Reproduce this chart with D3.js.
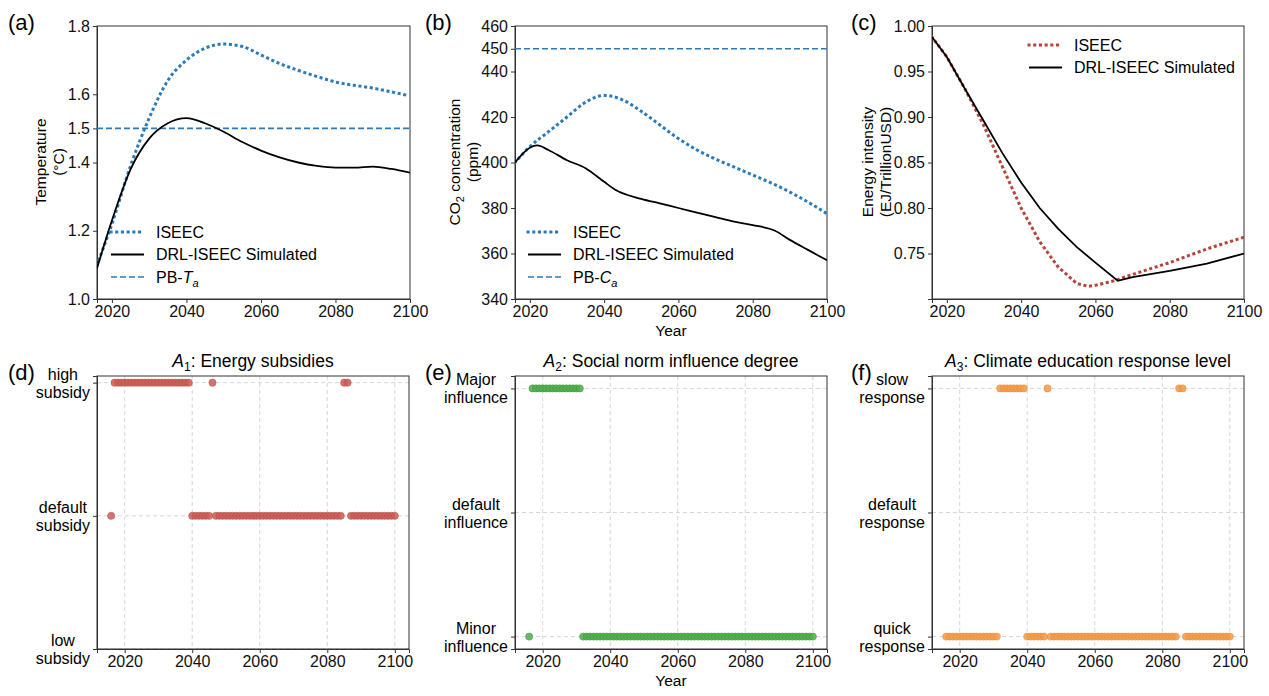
<!DOCTYPE html>
<html>
<head>
<meta charset="utf-8">
<script src="https://cdn.jsdelivr.net/npm/d3@7"></script>
<style>
  body { margin: 0; background: #fff; }
  svg { font-family: "Liberation Sans", Arial, sans-serif; }
  .tick text { font-size: 16px; fill: #111; }
  .domain { stroke: #333; }
  .tick line { stroke: #333; }
</style>
</head>
<body>
<svg id="chart" width="1269" height="696"></svg>
<script>
// ---- data ----
var tempYears   = [2016, 2020, 2025, 2030, 2035, 2040, 2045, 2050, 2055, 2060, 2065, 2070, 2075, 2080, 2090, 2100];
var tempIseec   = [1.10, 1.22, 1.39, 1.53, 1.64, 1.70, 1.735, 1.747, 1.74, 1.715, 1.69, 1.67, 1.652, 1.636, 1.618, 1.595];
var tempDrlYears = [2016, 2020, 2025, 2030, 2035, 2040, 2045, 2050, 2055, 2060, 2065, 2070, 2075, 2080, 2085, 2090, 2095, 2100];
var tempDrl     = [1.09, 1.23, 1.38, 1.47, 1.515, 1.53, 1.515, 1.49, 1.46, 1.435, 1.415, 1.40, 1.39, 1.385, 1.385, 1.388, 1.381, 1.37];

var co2Years    = [2016, 2020, 2025, 2030, 2035, 2040, 2045, 2050, 2055, 2060, 2065, 2070, 2075, 2080, 2085, 2090, 2095, 2100];
var co2Iseec    = [400, 407, 413.5, 420, 426.5, 429.5, 427.5, 422.5, 416.5, 410.5, 405.5, 401.5, 398, 394.5, 391, 387, 382.5, 377.5];
var co2DrlYears = [2016, 2020, 2022, 2025, 2030, 2035, 2040, 2043, 2050, 2055, 2060, 2065, 2070, 2075, 2080, 2086, 2090, 2095, 2100];
var co2Drl      = [400, 406.5, 407.5, 405.5, 401, 397.5, 391.5, 388, 384, 382, 380, 378, 376, 374, 372.5, 370, 366, 361.5, 357];

var eiYears     = [2016, 2020, 2025, 2030, 2035, 2040, 2045, 2050, 2055, 2058, 2060, 2065, 2070, 2080, 2090, 2100];
var eiIseec     = [0.988, 0.966, 0.93, 0.89, 0.845, 0.80, 0.763, 0.735, 0.717, 0.714, 0.715, 0.72, 0.727, 0.74, 0.755, 0.768];
var eiDrlYears  = [2016, 2020, 2025, 2030, 2035, 2040, 2045, 2050, 2055, 2060, 2066, 2070, 2080, 2090, 2100];
var eiDrl       = [0.988, 0.966, 0.93, 0.895, 0.86, 0.828, 0.80, 0.777, 0.757, 0.740, 0.720, 0.724, 0.731, 0.739, 0.750];

// action runs: [firstYear, lastYear, level]  (0 = low, 1 = default, 2 = high)
var a1Runs = [[2016, 2016, 1], [2017, 2039, 2], [2040, 2045, 1], [2046, 2046, 2], [2047, 2084, 1], [2085, 2086, 2], [2087, 2100, 1]];
var a2Runs = [[2016, 2016, 0], [2017, 2031, 2], [2032, 2100, 0]];
var a3Runs = [[2016, 2031, 0], [2032, 2039, 2], [2040, 2045, 0], [2046, 2046, 2], [2047, 2084, 0], [2085, 2086, 2], [2087, 2100, 0]];

var a1Labels = [["low", "subsidy"], ["default", "subsidy"], ["high", "subsidy"]];
var a2Labels = [["Minor", "influence"], ["default", "influence"], ["Major", "influence"]];
var a3Labels = [["quick", "response"], ["default", "response"], ["slow", "response"]];

var svg = d3.select("#chart");
var BLUE = "#2b7bb9", RED = "#b8433a";

function panelLabel(x, y, t) {
  svg.append("text").attr("x", x).attr("y", y).attr("font-size", 22).text(t);
}

function yLabel(g, x, y, lines) {
  var t = g.append("text").attr("transform", "translate(" + x + "," + y + ") rotate(-90)")
    .attr("text-anchor", "middle").attr("font-size", 15.5);
  lines.forEach(function(l, i) {
    var tt = t.append("tspan").attr("x", 0).attr("dy", i === 0 ? 0 : 18);
    l(tt);
  });
}

function linePanel(o) {
  var g = svg.append("g").attr("transform", "translate(" + o.left + "," + o.top + ")");
  var w = o.width, h = o.height;
  var x = d3.scaleLinear().domain([2016, 2100]).range([0, w]);
  var y = d3.scaleLinear().domain(o.yDomain).range([h, 0]);
  g.append("g").attr("transform", "translate(0," + h + ")")
    .call(d3.axisBottom(x).tickValues([2020, 2040, 2060, 2080, 2100]).tickFormat(d3.format("d")).tickSizeOuter(0).tickSize(4).tickPadding(3));
  g.append("g").call(d3.axisLeft(y).tickValues(o.yTicks).tickFormat(o.fmt).tickSizeOuter(0).tickSize(4).tickPadding(3));
  g.append("rect").attr("width", w).attr("height", h).attr("fill", "none").attr("stroke", "#333");
  var clip = "clip" + o.id;
  g.append("clipPath").attr("id", clip).append("rect").attr("width", w).attr("height", h);
  var pl = g.append("g").attr("clip-path", "url(#" + clip + ")");
  var curve = o.curve || d3.curveMonotoneX;
  var ln = d3.line().curve(curve).x(function(d) { return x(d[0]); }).y(function(d) { return y(d[1]); });
  if (o.pb != null) {
    pl.append("line").attr("x1", 0).attr("x2", w).attr("y1", y(o.pb)).attr("y2", y(o.pb))
      .attr("stroke", BLUE).attr("stroke-width", 1.6).attr("stroke-dasharray", "6,3");
  }
  pl.append("path").datum(d3.zip(o.years1, o.vals1)).attr("d", ln).attr("fill", "none")
    .attr("stroke", o.color1).attr("stroke-width", 3).attr("stroke-dasharray", "0.1,5.6").attr("stroke-linecap", "square");
  pl.append("path").datum(d3.zip(o.years2, o.vals2)).attr("d", ln).attr("fill", "none")
    .attr("stroke", "#000").attr("stroke-width", 1.8);

  // legend
  var lg = g.append("g").attr("transform", "translate(" + o.legX + "," + o.legY + ")");
  o.legend.forEach(function(it, i) {
    var yy = i * 22.5;
    var l = lg.append("line").attr("x1", 0).attr("x2", 33).attr("y1", yy).attr("y2", yy).attr("stroke", it.color);
    if (it.type === "dot") l.attr("stroke-width", 3).attr("stroke-dasharray", "0.1,5.6").attr("stroke-linecap", "square");
    else if (it.type === "dash") l.attr("stroke-width", 1.6).attr("stroke-dasharray", "6,3");
    else l.attr("stroke-width", 1.8);
    var t = lg.append("text").attr("x", 45).attr("y", yy + 5.5).attr("font-size", 16);
    it.text(t);
  });
  if (o.xlabel) g.append("text").attr("x", w / 2).attr("y", h + 37).attr("text-anchor", "middle").attr("font-size", 15.5).text("Year");
  return g;
}

function pbText(letter) {
  return function(t) {
    t.append("tspan").text("PB-");
    t.append("tspan").attr("font-style", "italic").text(letter);
    t.append("tspan").attr("font-style", "italic").attr("font-size", 11).attr("dy", 4).text("a");
  };
}
function plain(s) { return function(t) { t.text(s); }; }

// (a)
linePanel({ id: "a", left: 97, top: 26, width: 313, height: 273, yDomain: [1.0, 1.8],
  yTicks: [1.0, 1.2, 1.4, 1.5, 1.6, 1.8], fmt: d3.format(".1f"), pb: 1.5,
  years1: tempYears, vals1: tempIseec, color1: BLUE, years2: tempDrlYears, vals2: tempDrl,
  legX: 14, legY: 206,
  legend: [{ type: "dot", color: BLUE, text: plain("ISEEC") }, { type: "solid", color: "#000", text: plain("DRL-ISEEC Simulated") },
           { type: "dash", color: BLUE, text: pbText("T") }] });
yLabel(svg, 46, 162, [function(t) { t.text("Temperature"); }, function(t) { t.text("(°C)"); }]);

// (b)
linePanel({ id: "b", left: 515, top: 26, width: 312, height: 273, yDomain: [340, 460],
  yTicks: [340, 360, 380, 400, 420, 440, 450, 460], fmt: d3.format("d"), pb: 450,
  years1: co2Years, vals1: co2Iseec, color1: BLUE, years2: co2DrlYears, vals2: co2Drl,
  legX: 13, legY: 206, xlabel: true,
  legend: [{ type: "dot", color: BLUE, text: plain("ISEEC") }, { type: "solid", color: "#000", text: plain("DRL-ISEEC Simulated") },
           { type: "dash", color: BLUE, text: pbText("C") }] });
yLabel(svg, 460, 162, [function(t) {
    t.append("tspan").text("CO");
    t.append("tspan").attr("font-size", 11).attr("dy", 4).text("2");
    t.append("tspan").attr("dy", -4).text(" concentration");
  }, function(t) { t.text("(ppm)"); }]);

// (c)
linePanel({ id: "c", left: 932, top: 26, width: 312, height: 273, yDomain: [0.7, 1.0],
  yTicks: [0.75, 0.80, 0.85, 0.90, 0.95, 1.00], fmt: d3.format(".2f"), pb: null, curve: d3.curveLinear,
  years1: eiYears, vals1: eiIseec, color1: RED, years2: eiDrlYears, vals2: eiDrl,
  legX: 97, legY: 19,
  legend: [{ type: "dot", color: RED, text: plain("ISEEC") }, { type: "solid", color: "#000", text: plain("DRL-ISEEC Simulated") }] });
yLabel(svg, 873, 162, [function(t) { t.text("Energy intensity"); }, function(t) { t.text("(EJ/TrillionUSD)"); }]);

// ---- action panels ----
function expand(runs) {
  var pts = [];
  runs.forEach(function(r) { for (var yr = r[0]; yr <= r[1]; yr++) pts.push([yr, r[2]]); });
  return pts;
}

function actionPanel(o) {
  var g = svg.append("g").attr("transform", "translate(" + o.left + "," + o.top + ")");
  var w = 312, h = 273;
  var x = d3.scaleLinear().domain([2011.8, 2104.2]).range([0, w]);
  var y = d3.scaleLinear().domain(o.yDomain).range([h, 0]);
  var grid = g.append("g").attr("stroke", "#ccc").attr("stroke-dasharray", "4,3").attr("stroke-width", 0.8);
  [2020, 2040, 2060, 2080, 2100].forEach(function(v) {
    grid.append("line").attr("x1", x(v)).attr("x2", x(v)).attr("y1", 0).attr("y2", h);
  });
  [0, 1, 2].forEach(function(v) {
    grid.append("line").attr("x1", 0).attr("x2", w).attr("y1", y(v)).attr("y2", y(v));
  });
  g.append("g").attr("transform", "translate(0," + h + ")")
    .call(d3.axisBottom(x).tickValues([2020, 2040, 2060, 2080, 2100]).tickFormat(d3.format("d")).tickSizeOuter(0).tickSize(4).tickPadding(3));
  g.append("g").call(d3.axisLeft(y).tickValues([0, 1, 2]).tickFormat("").tickSizeOuter(0).tickSize(4));
  g.append("rect").attr("width", w).attr("height", h).attr("fill", "none").attr("stroke", "#333");
  g.selectAll("circle.pt").data(expand(o.runs)).enter().append("circle")
    .attr("cx", function(d) { return x(d[0]); }).attr("cy", function(d) { return y(d[1]); })
    .attr("r", 3.6).attr("fill", o.color).attr("fill-opacity", 0.85).attr("stroke", o.stroke).attr("stroke-width", 0.5);
  // two-line tick labels, block right-aligned, lines centred
  o.labels.forEach(function(lines, v) {
    var tg = g.append("g");
    var ts = lines.map(function(s, i) {
      return tg.append("text").attr("y", y(v) + (i === 0 ? -3 : 15)).attr("font-size", 16).attr("text-anchor", "middle").text(s);
    });
    var bw = d3.max(ts, function(t) { return t.node().getComputedTextLength(); });
    ts.forEach(function(t) { t.attr("x", -7 - bw / 2); });
  });
  var title = g.append("text").attr("x", w / 2).attr("y", -9).attr("text-anchor", "middle").attr("font-size", 17.5);
  title.append("tspan").attr("font-style", "italic").text("A");
  title.append("tspan").attr("font-size", 12).attr("dy", 4).text(o.sub);
  title.append("tspan").attr("dy", -4).text(": " + o.title);
  if (o.xlabel) g.append("text").attr("x", w / 2).attr("y", h + 37).attr("text-anchor", "middle").attr("font-size", 15.5).text("Year");
}

actionPanel({ left: 97, top: 376, yDomain: [0, 2.05], runs: a1Runs, labels: a1Labels, color: "#cd5c55", stroke: "#b04a44",
  sub: "1", title: "Energy subsidies" });
actionPanel({ left: 515, top: 376, yDomain: [-0.1, 2.1], runs: a2Runs, labels: a2Labels, color: "#4fae4a", stroke: "#3a9236",
  sub: "2", title: "Social norm influence degree", xlabel: true });
actionPanel({ left: 932, top: 376, yDomain: [-0.1, 2.1], runs: a3Runs, labels: a3Labels, color: "#f59b45", stroke: "#e08a38",
  sub: "3", title: "Climate education response level" });

panelLabel(8, 30, "(a)");
panelLabel(425, 30, "(b)");
panelLabel(851, 30, "(c)");
panelLabel(8, 380, "(d)");
panelLabel(425, 380, "(e)");
panelLabel(851, 380, "(f)");
</script>
</body>
</html>
